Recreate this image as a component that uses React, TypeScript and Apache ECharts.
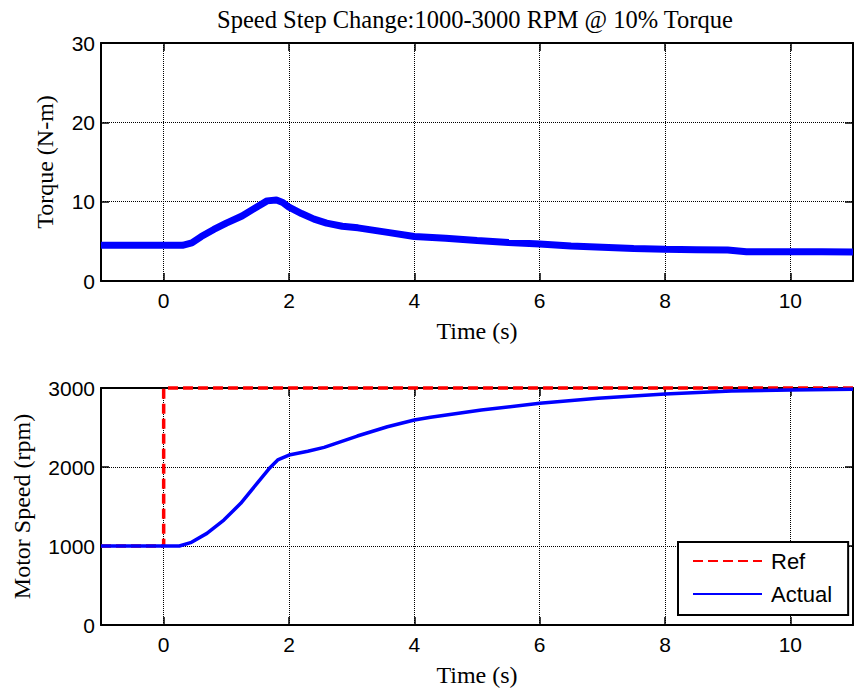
import React, { useEffect, useRef } from "react";
import * as echarts from "echarts";

// Torque response (N-m) over time (s)
const torqueTime = [-1, 0.3, 0.45, 0.6, 0.8, 1.0, 1.25, 1.5, 1.65, 1.8, 1.9, 2.0, 2.2, 2.4, 2.6, 2.85, 3.1, 3.6, 4.0, 4.5, 5.0, 5.5, 6.0, 6.5, 7.0, 7.5, 8.0, 8.5, 9.0, 9.3, 9.6, 10.0, 10.5, 11];
const torqueValues = [4.5, 4.5, 4.8, 5.6, 6.5, 7.3, 8.2, 9.4, 10.1, 10.2, 9.9, 9.3, 8.5, 7.8, 7.3, 6.9, 6.7, 6.1, 5.6, 5.4, 5.1, 4.85, 4.65, 4.4, 4.25, 4.1, 4.0, 3.95, 3.9, 3.7, 3.7, 3.7, 3.7, 3.65];

// Speed reference step (rpm)
const refTime = [-1, 0, 0, 11];
const refValues = [1000, 1000, 3000, 3000];

// Measured motor speed (rpm)
const speedTime = [-1, 0.25, 0.43, 0.69, 0.96, 1.23, 1.49, 1.7, 1.82, 2.0, 2.3, 2.56, 3.09, 3.57, 4.0, 4.26, 5.07, 6.0, 6.93, 8.0, 9.06, 10.0, 11];
const speedValues = [1000, 1000, 1042, 1160, 1329, 1540, 1793, 1995, 2090, 2151, 2200, 2249, 2392, 2510, 2595, 2629, 2722, 2806, 2869, 2924, 2962, 2975, 2985];

const torqueTicks = [0, 10, 20, 30];
const speedTicks = [0, 1000, 2000, 3000];

const title = "Speed Step Change:1000-3000 RPM @ 10% Torque";

const zip = (xs: number[], ys: number[]) => xs.map((x, i) => [x, ys[i]]);

const SANS = "Liberation Sans";
const SERIF = "Liberation Serif";

const gridLine = { show: true, lineStyle: { color: "#000", type: [1, 1] as any, width: 1 } };
const boxLine = { show: true, onZero: false, lineStyle: { color: "#000", width: 2 } };
const innerTick = { show: true, inside: true, length: 8, lineStyle: { color: "#000", width: 1.5 } };

function xAxes(gridIndex: number) {
  const common = {
    type: "value" as const,
    gridIndex,
    min: -1,
    max: 11,
    splitNumber: 6,
    axisLine: boxLine,
    axisTick: innerTick,
  };
  return [
    {
      ...common,
      position: "bottom",
      name: "Time (s)",
      nameLocation: "middle",
      nameGap: 38,
      nameTextStyle: { fontFamily: SERIF, fontSize: 24, color: "#000" },
      axisLabel: {
        show: true,
        fontFamily: SANS,
        fontSize: 21,
        color: "#000",
        margin: 9,
        showMinLabel: false,
        showMaxLabel: false,
        formatter: (v: number) => String(v),
      },
      splitLine: gridLine,
    },
    {
      ...common,
      position: "top",
      axisLabel: { show: false },
      splitLine: { show: false },
    },
  ];
}

function yAxes(gridIndex: number, ticks: number[], name: string, nameGap: number) {
  const common = {
    type: "value" as const,
    gridIndex,
    min: ticks[0],
    max: ticks[ticks.length - 1],
    interval: ticks[1] - ticks[0],
    axisLine: boxLine,
    axisTick: innerTick,
  };
  return [
    {
      ...common,
      position: "left",
      name,
      nameLocation: "middle",
      nameGap,
      nameTextStyle: { fontFamily: SERIF, fontSize: 24, color: "#000" },
      axisLabel: {
        show: true,
        fontFamily: SANS,
        fontSize: 21,
        color: "#000",
        margin: 6,
        formatter: (v: number) => String(v),
      },
      splitLine: gridLine,
    },
    {
      ...common,
      position: "right",
      axisLabel: { show: false },
      splitLine: { show: false },
    },
  ];
}

export default function App() {
  const ref = useRef<HTMLDivElement>(null);

  useEffect(() => {
    if (!ref.current) return;
    const chart = echarts.init(ref.current, null, { renderer: "svg" });
    chart.setOption({
      animation: false,
      backgroundColor: "#fff",
      title: {
        text: title,
        left: 470,
        top: 2,
        textAlign: "center",
        textStyle: { fontFamily: SERIF, fontSize: 24.5, fontWeight: "normal", color: "#000" },
      },
      grid: [
        { left: 101, top: 43, width: 752, height: 238 },
        { left: 101, top: 388, width: 752, height: 237 },
      ],
      xAxis: [...xAxes(0), ...xAxes(1)],
      yAxis: [
        ...yAxes(0, torqueTicks, "Torque (N-m)", 44),
        ...yAxes(1, speedTicks, "Motor Speed (rpm)", 67),
      ],
      legend: {
        data: ["Ref", "Actual"],
        orient: "vertical",
        left: 678,
        top: 542,
        padding: [8, 16, 10, 14],
        itemGap: 11,
        itemWidth: 69,
        itemHeight: 14,
        borderColor: "#000",
        borderWidth: 2,
        backgroundColor: "#fff",
        itemStyle: { opacity: 0 },
        textStyle: { fontFamily: SANS, fontSize: 22, color: "#000", padding: [0, 0, 0, 4] },
      },
      series: [
        {
          name: "Torque",
          type: "line",
          xAxisIndex: 0,
          yAxisIndex: 0,
          data: zip(torqueTime, torqueValues),
          symbol: "none",
          lineStyle: { color: "#0000ff", width: 7 },
          itemStyle: { color: "#0000ff" },
        },
        {
          name: "Ref",
          type: "line",
          xAxisIndex: 2,
          yAxisIndex: 2,
          data: zip(refTime, refValues),
          symbol: "none",
          clip: false,
          lineStyle: { color: "#ff0000", width: 3.5, type: [10, 5] as any },
          itemStyle: { color: "#ff0000" },
        },
        {
          name: "Actual",
          type: "line",
          xAxisIndex: 2,
          yAxisIndex: 2,
          data: zip(speedTime, speedValues),
          symbol: "none",
          lineStyle: { color: "#0000ff", width: 3.5 },
          itemStyle: { color: "#0000ff" },
        },
      ],
    });
    return () => chart.dispose();
  }, []);

  return (
    <div
      ref={ref}
      style={{ position: "absolute", left: 0, top: 0, width: 860, height: 694, background: "#fff" }}
    />
  );
}
